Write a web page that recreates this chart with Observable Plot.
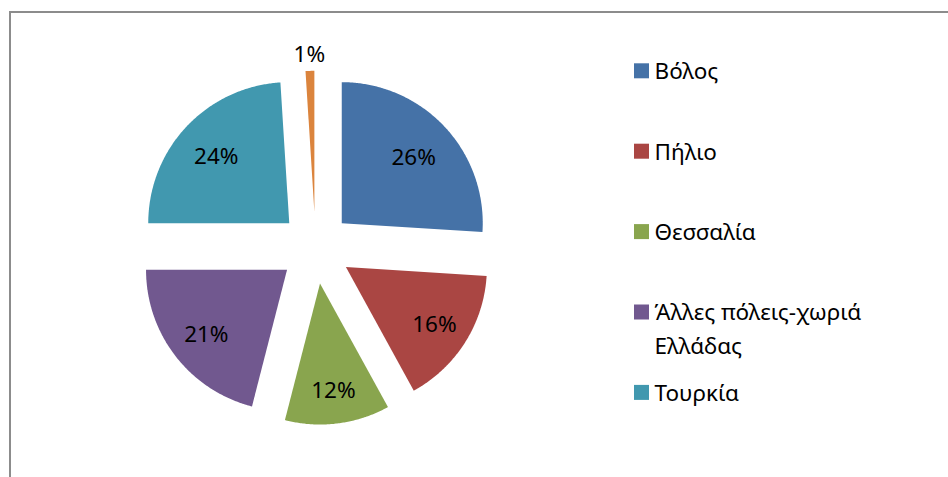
<!DOCTYPE html>
<html><head><meta charset="utf-8">
<script src="https://cdn.jsdelivr.net/npm/d3@7"></script>
<script src="https://cdn.jsdelivr.net/npm/@observablehq/plot@0.6"></script>
<style>
html,body{margin:0;padding:0;background:#fff;overflow:hidden;width:948px;height:477px}
#wrap{position:relative;width:948px;height:477px;overflow:hidden}
#frame{position:absolute;left:9px;top:11px;width:2000px;height:2000px;border-left:2px solid #8c8c8c;border-top:2px solid #8c8c8c;box-sizing:border-box;pointer-events:none}
#chart{position:absolute;left:0;top:0}
</style></head><body>
<div id="wrap"><div id="chart"></div><div id="frame"></div></div>
<script>
// ---- data ----
const categories = ["Βόλος", "Πήλιο", "Θεσσαλία", "Άλλες πόλεις-χωριά Ελλάδας", "Τουρκία", "Άλλες χώρες"];
const values = [26, 16, 12, 21, 24, 1];
const valueLabels = ["26%", "16%", "12%", "21%", "24%", "1%"];
const colors = ["#4572A7", "#AA4643", "#89A54E", "#71588F", "#4198AF", "#DB843D"];
const legendLabels = ["Βόλος", "Πήλιο", "Θεσσαλία", "Άλλες πόλεις-χωριά\nΕλλάδας", "Τουρκία"];

// ---- layout ----
const W = 948, H = 477;
const cx = 315, cy = 247.3, R = 141, explode = 36;
const fontSize = 22.5, lineH = 34;

const total = d3.sum(values);
let acc = 0;
const slices = categories.map((name, i) => {
  const a0 = acc / total * 2 * Math.PI; acc += values[i];
  const a1 = acc / total * 2 * Math.PI;
  const mid = (a0 + a1) / 2, half = (a1 - a0) / 2;
  const vx = cx + explode * Math.sin(mid), vy = cy - explode * Math.cos(mid);
  const small = values[i] / total < 0.03;
  const ld = small ? 1.13 * R : (2 * R * Math.sin(half)) / (3 * half) + 0.105 * R;
  return {name, value: values[i], label: valueLabels[i], a0, a1, mid, vx, vy,
          lx: vx + ld * Math.sin(mid), ly: vy - ld * Math.cos(mid)};
});

const points = [];
for (const s of slices) {
  points.push({name: s.name, x: s.vx, y: s.vy});
  const n = Math.max(2, Math.ceil((s.a1 - s.a0) / (Math.PI / 360)));
  for (let k = 0; k <= n; k++) {
    const a = s.a0 + (s.a1 - s.a0) * k / n;
    points.push({name: s.name, x: s.vx + R * Math.sin(a), y: s.vy - R * Math.cos(a)});
  }
}

const legendTop = 70.8, legendStep = 80.4, sq = 15, legendX = 634;
const legend = legendLabels.map((lab, i) => {
  const lines = lab.split("\n").length;
  const yc = legendTop + legendStep * i;
  return {name: categories[i], text: lab, yc, ym: yc + (lines - 1) * lineH / 2};
});

const chart = Plot.plot({
  width: W, height: H, margin: 0,
  x: {type: "identity", axis: null}, y: {type: "identity", axis: null},
  color: {domain: categories, range: colors},
  style: {fontFamily: "'Noto Sans', sans-serif", background: "transparent"},
  marks: [
    Plot.line(points, {x: "x", y: "y", z: "name", fill: "name", stroke: "none", curve: "linear"}),
    Plot.text(slices, {x: "lx", y: "ly", text: "label", fontSize, fill: "#000", lineAnchor: "middle", dy: 2}),
    Plot.rect(legend, {x1: () => legendX, x2: () => legendX + sq, y1: d => d.yc - sq / 2, y2: d => d.yc + sq / 2, fill: "name"}),
    Plot.text(legend, {x: () => legendX + sq + 5, y: "ym", text: "text", textAnchor: "start", lineAnchor: "middle", lineHeight: lineH / fontSize, fontSize, fill: "#000", dy: -3})
  ]
});
document.getElementById("chart").appendChild(chart);
</script>
</body></html>
